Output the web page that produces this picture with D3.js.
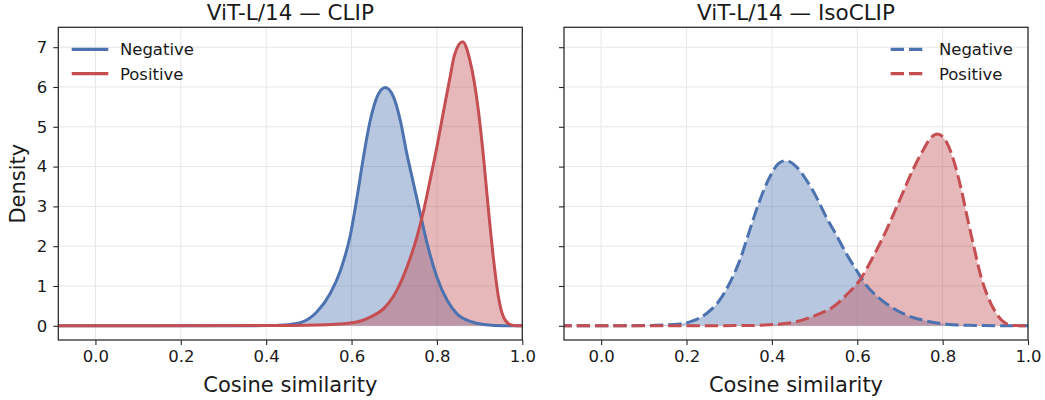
<!DOCTYPE html>
<html>
<head>
<meta charset="utf-8">
<script src="https://cdn.jsdelivr.net/npm/d3@7"></script>
<style>
  body { margin: 0; background: #fff; }
  svg { display: block; font-family: "DejaVu Sans", sans-serif; }
</style>
</head>
<body>
<div id="chart"></div>
<script>
// density curves (x = cosine similarity, y = density)
const clipNegX = [-0.1, 0.30, 0.40, 0.44, 0.48, 0.518, 0.55, 0.574, 0.597, 0.613, 0.628, 0.644, 0.66, 0.679, 0.698, 0.714, 0.73, 0.745, 0.761, 0.777, 0.80, 0.824, 0.847, 0.878, 0.91, 0.957, 1.0];
const clipNegY = [0, 0, 0.005, 0.02, 0.08, 0.34, 0.81, 1.39, 2.27, 3.24, 4.25, 5.17, 5.76, 5.99, 5.76, 5.17, 4.3, 3.58, 2.82, 2.07, 1.22, 0.64, 0.30, 0.11, 0.03, 0, 0];
const clipPosX = [-0.1, 0.40, 0.518, 0.597, 0.644, 0.675, 0.706, 0.73, 0.753, 0.769, 0.784, 0.80, 0.816, 0.831, 0.841, 0.860, 0.877, 0.897, 0.909, 0.92, 0.932, 0.944, 0.956, 0.972, 0.987, 1.0];
const clipPosY = [0, 0.005, 0.02, 0.07, 0.22, 0.43, 0.89, 1.48, 2.23, 2.9, 3.66, 4.5, 5.42, 6.26, 6.8, 7.14, 6.68, 5.42, 4.25, 2.99, 1.73, 0.73, 0.22, 0.03, 0, 0];
const isoNegX = [-0.1, 0.10, 0.169, 0.208, 0.247, 0.278, 0.301, 0.325, 0.348, 0.372, 0.395, 0.414, 0.432, 0.457, 0.481, 0.504, 0.527, 0.551, 0.574, 0.598, 0.621, 0.652, 0.684, 0.715, 0.762, 0.809, 0.871, 0.95, 1.0];
const isoNegY = [0, 0.005, 0.034, 0.1, 0.31, 0.65, 1.07, 1.65, 2.4, 3.16, 3.74, 4.06, 4.15, 4.0, 3.66, 3.24, 2.74, 2.28, 1.82, 1.4, 1.02, 0.69, 0.44, 0.27, 0.12, 0.04, 0.01, 0, 0];
const isoPosX = [-0.1, 0.325, 0.403, 0.457, 0.504, 0.543, 0.574, 0.606, 0.637, 0.668, 0.699, 0.730, 0.754, 0.773, 0.7875, 0.809, 0.828, 0.844, 0.859, 0.875, 0.89, 0.906, 0.926, 0.945, 0.964, 1.0];
const isoPosY = [0, 0.005, 0.03, 0.1, 0.27, 0.47, 0.77, 1.15, 1.73, 2.4, 3.15, 3.91, 4.41, 4.73, 4.82, 4.62, 4.08, 3.41, 2.66, 1.9, 1.23, 0.73, 0.31, 0.08, 0.01, 0];

const panelTitles = ['ViT-L/14 \u2014 CLIP', 'ViT-L/14 \u2014 IsoCLIP'];
const seriesNames = ['Negative', 'Positive'];
const xTicks = [0.0, 0.2, 0.4, 0.6, 0.8, 1.0];
const yTicks = [0, 1, 2, 3, 4, 5, 6, 7];

const colors = ['#4c72b0', '#c44e52'];
const width = 1045, height = 400;
const plotTop = 27.3, plotBottom = 340;
const xDomain = [-0.087, 1.0];
const yDomain = [-0.357, 7.5];

const svg = d3.select('#chart').append('svg')
  .attr('width', width)
  .attr('height', height);

const y = d3.scaleLinear().domain(yDomain).range([plotBottom, plotTop]);

const panels = [
  {left: 58.3, right: 522.3, title: panelTitles[0], xs: [clipNegX, clipPosX], ys: [clipNegY, clipPosY], dashed: false, legend: 'left', yLabels: true},
  {left: 564, right: 1028, title: panelTitles[1], xs: [isoNegX, isoPosX], ys: [isoNegY, isoPosY], dashed: true, legend: 'right', yLabels: false}
];

panels.forEach((p, pi) => {
  const x = d3.scaleLinear().domain(xDomain).range([p.left, p.right]);
  const g = svg.append('g');
  const clipId = 'clip' + pi;

  svg.append('clipPath').attr('id', clipId)
    .append('rect')
    .attr('x', p.left).attr('y', plotTop)
    .attr('width', p.right - p.left).attr('height', plotBottom - plotTop);

  // grid
  g.append('g').selectAll('line').data(xTicks).enter().append('line')
    .attr('x1', d => x(d)).attr('x2', d => x(d))
    .attr('y1', plotTop).attr('y2', plotBottom)
    .style('stroke', '#e6e6e6').style('stroke-width', 1);
  g.append('g').selectAll('line').data(yTicks).enter().append('line')
    .attr('x1', p.left).attr('x2', p.right)
    .attr('y1', d => y(d)).attr('y2', d => y(d))
    .style('stroke', '#e6e6e6').style('stroke-width', 1);

  const plot = g.append('g').attr('clip-path', 'url(#' + clipId + ')');

  const area = d3.area().curve(d3.curveMonotoneX)
    .x(d => x(d[0])).y0(y(0)).y1(d => y(d[1]));
  const line = d3.line().curve(d3.curveMonotoneX)
    .x(d => x(d[0])).y(d => y(d[1]));

  const series = [0, 1].map(k => p.xs[k].map((v, i) => [v, p.ys[k][i]]));

  series.forEach((s, k) => {
    plot.append('path').datum(s)
      .attr('d', area)
      .style('fill', colors[k])
      .style('fill-opacity', 0.4);
  });
  series.forEach((s, k) => {
    plot.append('path').datum(s)
      .attr('d', line)
      .style('fill', 'none')
      .style('stroke', colors[k])
      .style('stroke-width', 3)
      .style('stroke-dasharray', p.dashed ? '13.3,5' : null);
  });

  // axes
  const xAxis = g.append('g')
    .attr('transform', 'translate(0,' + plotBottom + ')')
    .call(d3.axisBottom(x).tickValues(xTicks).tickFormat(d3.format('.1f')).tickSize(5).tickPadding(5));
  const yAxis = g.append('g')
    .attr('transform', 'translate(' + p.left + ',0)')
    .call(d3.axisLeft(y).tickValues(yTicks).tickSize(5).tickPadding(6));
  if (!p.yLabels) yAxis.selectAll('text').remove();
  [xAxis, yAxis].forEach(a => {
    a.select('.domain').remove();
    a.selectAll('line').style('stroke', '#262626').style('stroke-width', 1.1);
    a.selectAll('text').style('font-size', '16.5px').style('fill', '#1a1a1a')
      .style('font-family', '"DejaVu Sans", sans-serif');
  });

  g.append('rect')
    .attr('x', p.left).attr('y', plotTop)
    .attr('width', p.right - p.left).attr('height', plotBottom - plotTop)
    .style('fill', 'none').style('stroke', '#262626').style('stroke-width', 1.25);

  g.append('text')
    .text(p.title)
    .attr('x', (p.left + p.right) / 2).attr('y', 19.5)
    .style('text-anchor', 'middle')
    .style('font-size', '21.5px')
    .style('fill', '#1a1a1a');

  g.append('text')
    .text('Cosine similarity')
    .attr('x', (p.left + p.right) / 2).attr('y', 391.5)
    .style('text-anchor', 'middle')
    .style('font-size', '21px')
    .style('fill', '#1a1a1a');

  // legend
  const lx = p.legend === 'left' ? p.left + 13.4 : 890.7;
  const leg = g.append('g').selectAll('g').data(seriesNames).enter().append('g')
    .attr('transform', (d, i) => 'translate(' + lx + ',' + (49.3 + i * 24.3) + ')');
  leg.append('line')
    .attr('x1', 0).attr('x2', 36.6).attr('y1', 0).attr('y2', 0)
    .style('stroke', (d, i) => colors[i])
    .style('stroke-width', 3.2)
    .style('stroke-dasharray', p.dashed ? '13.3,5' : null);
  leg.append('text')
    .text(d => d)
    .attr('x', 48.2).attr('y', 0).attr('dy', '0.36em')
    .style('font-size', '16.5px')
    .style('fill', '#1a1a1a');
});

svg.append('text')
  .text('Density')
  .attr('transform', 'translate(25,' + ((plotTop + plotBottom) / 2) + ') rotate(-90)')
  .style('text-anchor', 'middle')
  .style('font-size', '21px')
  .style('fill', '#1a1a1a');
</script>
</body>
</html>
